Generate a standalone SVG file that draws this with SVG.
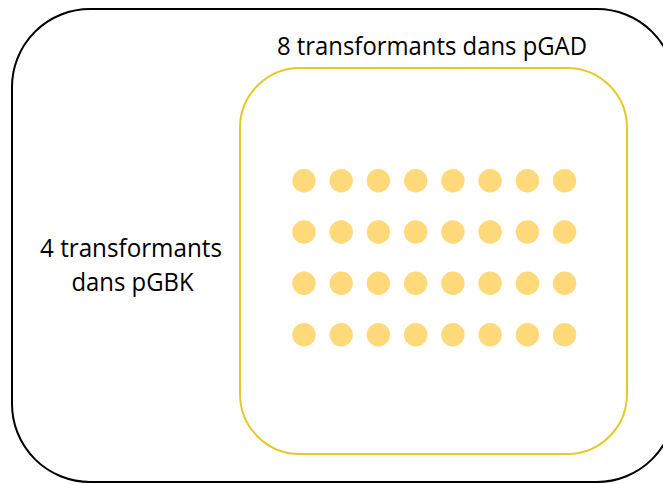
<svg xmlns="http://www.w3.org/2000/svg" width="663" height="484" viewBox="0 0 663 484">
  <style>
    .lbl { font-family: "Open Sans", "Noto Sans", "Liberation Sans", sans-serif; font-size: 25px; fill: #000; text-anchor: middle; }
    .dot { fill: #FFD97A; }
  </style>
  <defs>
    <circle id="d" r="11.7" class="dot"/>
  </defs>
  <rect x="0" y="0" width="663" height="484" fill="#fff"/>
  <g id="pGBK">
    <rect x="12" y="9" width="663" height="473" rx="78" ry="78" fill="none" stroke="#000" stroke-width="2"/>
    <text class="lbl" x="131" y="257" textLength="182" lengthAdjust="spacingAndGlyphs">4 transformants</text>
    <text class="lbl" x="132.5" y="291" textLength="122" lengthAdjust="spacingAndGlyphs">dans pGBK</text>
  </g>
  <g id="pGAD">
    <rect x="240" y="68" width="387" height="386" rx="60" ry="60" fill="none" stroke="#E3C92A" stroke-width="2"/>
    <text class="lbl" x="432" y="55" textLength="310" lengthAdjust="spacingAndGlyphs">8 transformants dans pGAD</text>
  </g>
  <g id="colonies">
    <g id="row1" transform="translate(0,180.7)">
      <use href="#d" x="304"/><use href="#d" x="341.2"/><use href="#d" x="378.4"/><use href="#d" x="415.7"/>
      <use href="#d" x="452.9"/><use href="#d" x="490.1"/><use href="#d" x="527.4"/><use href="#d" x="564.6"/>
    </g>
    <g id="row2" transform="translate(0,232)">
      <use href="#d" x="304"/><use href="#d" x="341.2"/><use href="#d" x="378.4"/><use href="#d" x="415.7"/>
      <use href="#d" x="452.9"/><use href="#d" x="490.1"/><use href="#d" x="527.4"/><use href="#d" x="564.6"/>
    </g>
    <g id="row3" transform="translate(0,283.3)">
      <use href="#d" x="304"/><use href="#d" x="341.2"/><use href="#d" x="378.4"/><use href="#d" x="415.7"/>
      <use href="#d" x="452.9"/><use href="#d" x="490.1"/><use href="#d" x="527.4"/><use href="#d" x="564.6"/>
    </g>
    <g id="row4" transform="translate(0,334.7)">
      <use href="#d" x="304"/><use href="#d" x="341.2"/><use href="#d" x="378.4"/><use href="#d" x="415.7"/>
      <use href="#d" x="452.9"/><use href="#d" x="490.1"/><use href="#d" x="527.4"/><use href="#d" x="564.6"/>
    </g>
  </g>
</svg>
